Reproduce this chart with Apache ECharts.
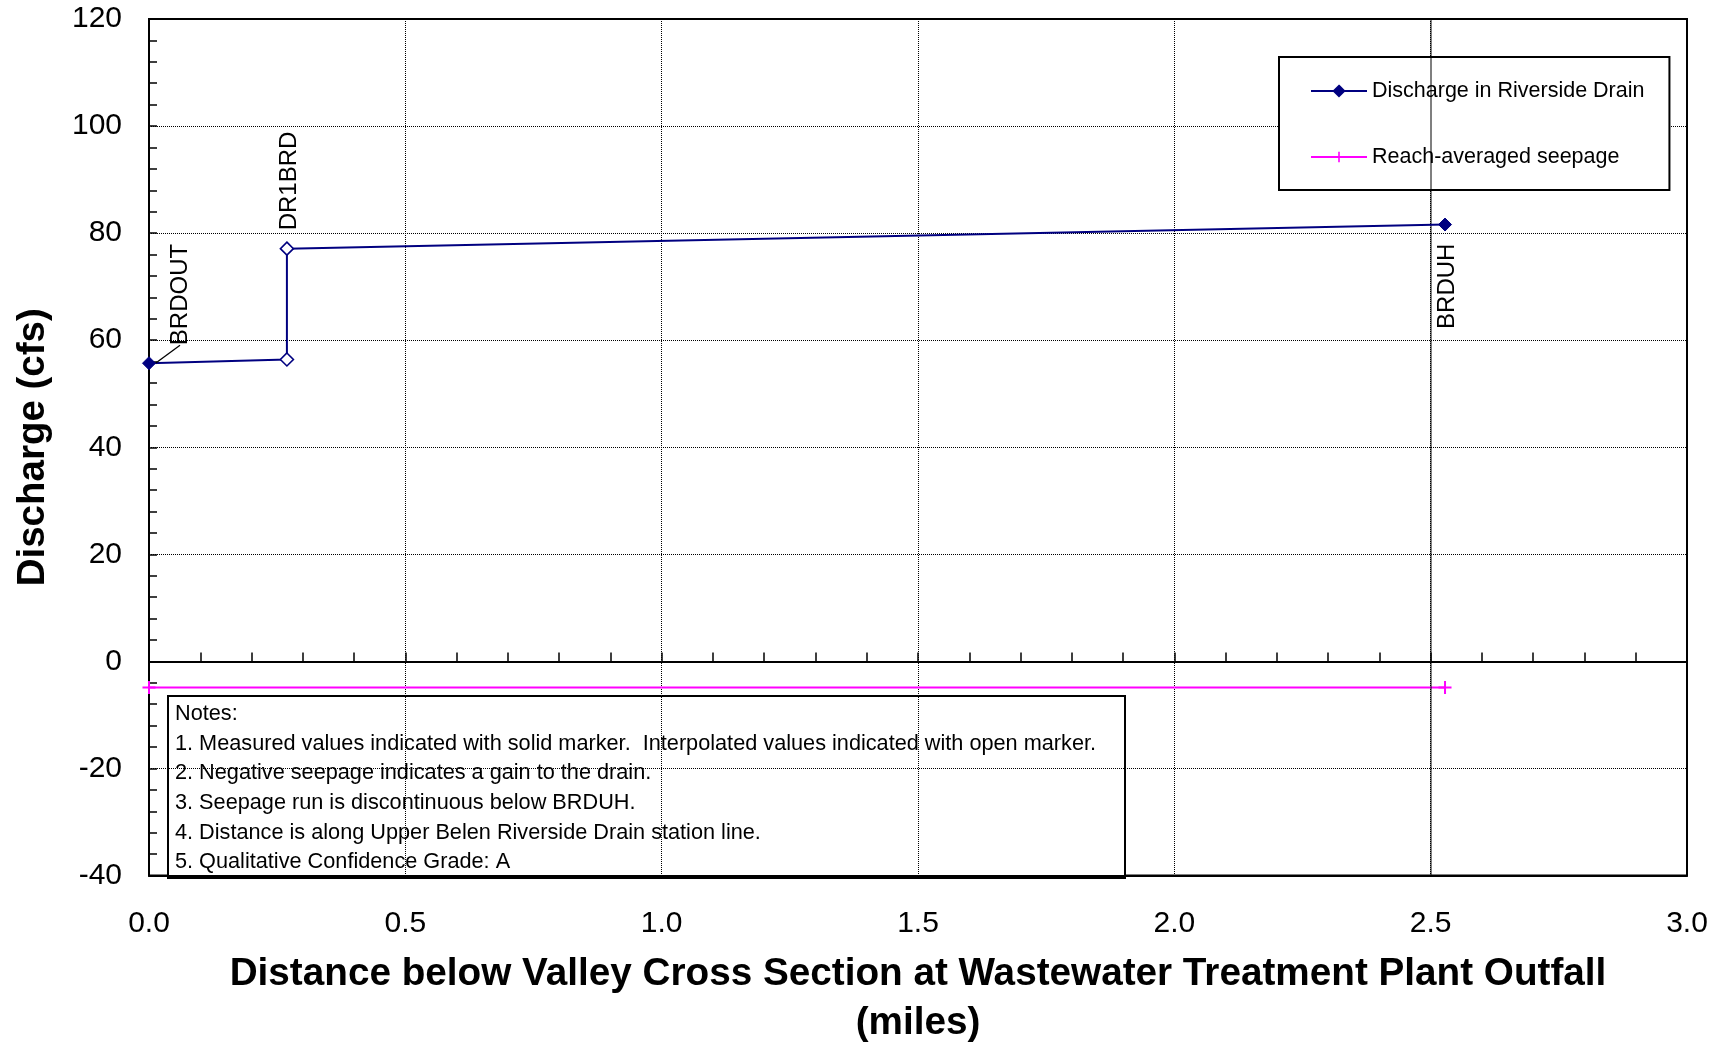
<!DOCTYPE html>
<html>
<head>
<meta charset="utf-8">
<script src="https://cdn.jsdelivr.net/npm/echarts@6/dist/echarts.min.js"></script>
<style>
  html, body { margin: 0; padding: 0; background: #fff; }
  #chart { width: 1726px; height: 1042px; }
</style>
</head>
<body>
<div id="chart"></div>
<script>
// Riverside Drain discharge stations (miles below the WWTP outfall section)
const distance = [0, 0.269, 0.269, 2.528];
const discharge = [55.7, 56.4, 77.1, 81.6];
const siteNames = ['BRDOUT', '', 'DR1BRD', 'BRDUH'];
const measured = [true, false, false, true];

// Reach-averaged seepage over the run
const seepageDistance = [0, 2.528];
const seepage = [-4.9, -4.9];

// Reference station line
const stationLine = [2.5];

// Axis ranges
const xRange = [0, 3];
const yRange = [-40, 120];

const seriesNames = ['Discharge in Riverside Drain', 'Reach-averaged seepage'];
const axisTitles = {
  x: 'Distance below Valley Cross Section at Wastewater Treatment Plant Outfall\n(miles)',
  y: 'Discharge (cfs)'
};
const notes = [
  'Notes:',
  '1. Measured values indicated with solid marker.  Interpolated values indicated with open marker.',
  '2. Negative seepage indicates a gain to the drain.',
  '3. Seepage run is discontinuous below BRDUH.',
  '4. Distance is along Upper Belen Riverside Drain station line.',
  '5. Qualitative Confidence Grade: A'
];

const FONT = '"Liberation Sans", Arial, Helvetica, sans-serif';
const NAVY = '#000080';
const MAGENTA = '#FF00FF';
const CROSS = 'path://M5.5,0H7.5V5.5H13V7.5H7.5V13H5.5V7.5H0V5.5H5.5Z';

// Where each station name sits relative to its marker (rotated, vertical text)
const labelPlacement = {
  BRDOUT: { position: [38, -11], align: 'left', leader: true },
  DR1BRD: { position: [10, -11], align: 'left' },
  BRDUH:  { position: [9, 26], align: 'right' }
};

const dischargeData = distance.map((d, i) => {
  const item = { value: [d, discharge[i]], name: siteNames[i] };
  if (!measured[i]) {
    item.itemStyle = { color: '#fff', borderColor: NAVY, borderWidth: 1.6 };
  }
  const p = labelPlacement[siteNames[i]];
  if (p) {
    item.label = {
      show: true, position: p.position, align: p.align,
      verticalAlign: 'middle', rotate: 90
    };
    if (p.leader) {
      item.labelLine = { show: true, lineStyle: { color: '#000', width: 1.3 } };
    }
  }
  return item;
});

const seepageData = seepageDistance.map((d, i) => [d, seepage[i]]);

const chart = echarts.init(document.getElementById('chart'), null, { renderer: 'canvas' });

const option = {
  animation: false,
  backgroundColor: '#fff',
  textStyle: { fontFamily: FONT },
  grid: {
    left: 149, top: 19, right: 39, bottom: 166.5,
    outerBoundsMode: 'none',
    containLabel: false,
    show: true, borderColor: '#000', borderWidth: 2, backgroundColor: 'transparent'
  },
  legend: {
    left: 1279, top: 57,
    orient: 'vertical',
    padding: [23, 25, 22, 31],
    itemGap: 44,
    itemWidth: 56, itemHeight: 13,
    backgroundColor: '#fff',
    borderColor: '#000', borderWidth: 2, borderRadius: 0,
    textStyle: { fontFamily: FONT, fontSize: 21.5, color: '#000', lineHeight: 22 },
    data: seriesNames
  },
  xAxis: [
    {
      type: 'value', min: xRange[0], max: xRange[1], interval: 0.5,
      position: 'bottom',
      axisLine: { show: true, onZero: false, lineStyle: { color: '#000', width: 2 } },
      axisTick: { show: false },
      axisLabel: {
        show: true, margin: 33, color: '#000', fontSize: 30, fontFamily: FONT,
        formatter: v => v.toFixed(1)
      },
      splitLine: { show: true, lineStyle: { color: '#000', width: 1, type: [1, 1] } },
      name: axisTitles.x,
      nameLocation: 'middle',
      nameGap: 75,
      nameTextStyle: { fontFamily: FONT, fontSize: 38.7, fontWeight: 'bold', color: '#000', lineHeight: 48.5 }
    },
    {
      // zero line with tenth-mile ticks
      type: 'value', min: xRange[0], max: xRange[1], interval: 0.1,
      axisLine: { show: true, onZero: true, onZeroAxisIndex: 0, lineStyle: { color: '#000', width: 2 } },
      axisTick: { show: true, inside: false, length: 9, lineStyle: { color: '#000', width: 1.5 } },
      axisLabel: { show: false },
      splitLine: { show: false }
    }
  ],
  yAxis: {
    type: 'value', min: yRange[0], max: yRange[1], interval: 20,
    axisLine: { show: true, onZero: false, lineStyle: { color: '#000', width: 2 } },
    axisTick: { show: true, inside: true, length: 8, lineStyle: { color: '#000', width: 1.5 } },
    minorTick: { show: true, splitNumber: 5, length: 8, lineStyle: { color: '#000', width: 1.5 } },
    axisLabel: {
      show: true, margin: 27, color: '#000', fontSize: 30, fontFamily: FONT,
      padding: [6, 0, 0, 0]
    },
    splitLine: { show: true, lineStyle: { color: '#000', width: 1, type: [1, 1] } },
    name: axisTitles.y,
    nameLocation: 'middle',
    nameRotate: 90,
    nameGap: 96,
    nameTextStyle: { fontFamily: FONT, fontSize: 38.5, fontWeight: 'bold', color: '#000' }
  },
  series: [
    {
      name: seriesNames[0],
      type: 'line',
      xAxisIndex: 0,
      data: dischargeData,
      symbol: 'diamond',
      symbolSize: 13,
      showAllSymbol: true,
      lineStyle: { color: NAVY, width: 2 },
      itemStyle: { color: NAVY, borderColor: NAVY, borderWidth: 1 },
      label: {
        show: false, formatter: '{b}', color: '#000',
        fontFamily: FONT, fontSize: 24
      },
      z: 5
    },
    {
      name: seriesNames[1],
      type: 'line',
      xAxisIndex: 0,
      data: seepageData,
      symbol: CROSS,
      symbolSize: 13,
      lineStyle: { color: MAGENTA, width: 2 },
      itemStyle: { color: MAGENTA },
      markLine: {
        silent: true,
        symbol: 'none',
        label: { show: false },
        lineStyle: { color: '#000', width: 2, type: [1, 1] },
        data: stationLine.map(x => ({ xAxis: x }))
      },
      z: 4
    }
  ],
  graphic: [
    {
      type: 'group', left: 167, top: 695, z: 50,
      children: [
        {
          type: 'rect',
          shape: { x: 0, y: 0, width: 957, height: 182 },
          style: { fill: '#fff', stroke: '#000', lineWidth: 2 }
        },
        {
          type: 'text', x: 7, y: 3,
          style: {
            text: notes.join('\n'),
            font: '21.7px ' + FONT,
            lineHeight: 29.7,
            fill: '#000'
          }
        }
      ]
    }
  ]
};

chart.setOption(option);
</script>
</body>
</html>
